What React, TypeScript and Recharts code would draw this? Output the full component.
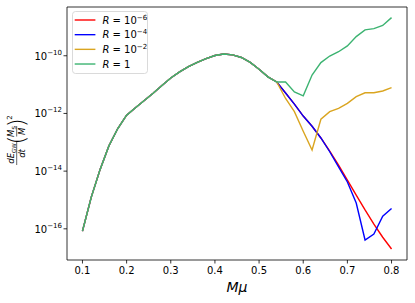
import React from "react";
import { LineChart, Line, XAxis, YAxis, ReferenceArea, Legend } from "recharts";

// x values (M mu)
const MU = [
  0.1, 0.12, 0.14, 0.16, 0.18, 0.2, 0.22, 0.24, 0.26, 0.28, 0.3, 0.32, 0.34, 0.36,
  0.38, 0.4, 0.42, 0.44, 0.46, 0.48, 0.5, 0.52, 0.54, 0.56, 0.58, 0.6, 0.62, 0.64,
  0.66, 0.68, 0.7, 0.72, 0.74, 0.76, 0.78, 0.8,
];

// shared branch (0.10 .. 0.54) common to every R
const SHARED = [
  8.3e-17, 1.26e-15, 1.15e-14, 7.6e-14, 3.0e-13, 8.7e-13, 1.58e-12, 2.8e-12, 5.0e-12,
  9.3e-12, 1.7e-11, 2.75e-11, 4.2e-11, 5.9e-11, 7.9e-11, 1.02e-10, 1.15e-10, 1.07e-10,
  8.7e-11, 5.9e-11, 3.4e-11, 1.86e-11, 1.23e-11,
];

// tails (0.56 .. 0.80)
const TAIL_R6 = [5.1e-12, 2.1e-12, 8.1e-13, 3.6e-13, 1.41e-13, 4.9e-14, 1.62e-14, 4.9e-15, 1.48e-15, 4.5e-16, 1.45e-16, 5.1e-17, 2.0e-17];
const TAIL_R4 = [5.1e-12, 2.1e-12, 8.1e-13, 3.6e-13, 1.41e-13, 4.7e-14, 1.41e-14, 4.2e-15, 7.8e-16, 4.1e-17, 6.6e-17, 2.75e-16, 5.1e-16];
const TAIL_R2 = [3.3e-12, 1.15e-12, 2.4e-13, 5.4e-14, 6.3e-13, 1.15e-12, 1.51e-12, 2.24e-12, 3.8e-12, 5.2e-12, 5.2e-12, 6.0e-12, 7.8e-12];
const TAIL_R0 = [1.23e-11, 5.6e-12, 4.1e-12, 2.14e-11, 5.8e-11, 9.8e-11, 1.38e-10, 2.2e-10, 4.6e-10, 7.9e-10, 8.7e-10, 1.12e-9, 2.1e-9];

const SERIES_KEYS = ["r6", "r4", "r2", "r0"];
const SERIES_COLORS = ["#ff0000", "#0000ff", "#daa520", "#3cb371"];
const LEGEND_EXPONENTS = ["\u22126", "\u22124", "\u22122", ""];

const X_TICKS = [0.1, 0.2, 0.3, 0.4, 0.5, 0.6, 0.7, 0.8];
const Y_TICKS = [1e-16, 1e-14, 1e-12, 1e-10];
const Y_TICK_EXPONENTS = ["\u221216", "\u221214", "\u221212", "\u221210"];

const X_DOMAIN = [0.065, 0.835];
const Y_DOMAIN = [8.3e-18, 4.9e-9];

const tails = [TAIL_R6, TAIL_R4, TAIL_R2, TAIL_R0];
const data = MU.map((mu, i) => {
  const row: any = { mu };
  SERIES_KEYS.forEach((k, s) => {
    row[k] = i < SHARED.length ? SHARED[i] : tails[s][i - SHARED.length];
  });
  return row;
});

const FONT = "DejaVu Sans";

const XTick = (props: any) => {
  const { x, payload } = props;
  return (
    <text x={x} y={274} textAnchor="middle" fontSize={10} fontFamily={FONT} fill="#000">
      {payload.value.toFixed(1)}
    </text>
  );
};

const YTick = (props: any) => {
  const { x, y, payload } = props;
  const idx = Y_TICKS.findIndex((t) => Math.abs(Math.log10(t) - Math.log10(payload.value)) < 0.01);
  return (
    <text x={x} y={y + 4} textAnchor="end" fontSize={10} fontFamily={FONT} fill="#000">
      <tspan>10</tspan>
      <tspan dy={-5} fontSize={7}>{Y_TICK_EXPONENTS[idx]}</tspan>
    </text>
  );
};

const XLabel = () => (
  <text x={237} y={292} textAnchor="middle" fontSize={14} fontStyle="italic" fontFamily={FONT} fill="#000">
    M{"\u03bc"}
  </text>
);

const YLabel = () => (
  <g transform="translate(16.7,140) rotate(-90)" fontFamily={FONT} fill="#000">
    <text x={-13.5} y={-2.5} textAnchor="middle" fontSize={8.5}>
      <tspan fontStyle="italic">dE</tspan>
      <tspan fontSize={5.5} dy={1.8}>GW</tspan>
    </text>
    <line x1={-25} x2={-2} y1={0} y2={0} stroke="#000" strokeWidth={0.6} />
    <text x={-13.5} y={8.3} textAnchor="middle" fontSize={8.5} fontStyle="italic">dt</text>
    <text x={0} y={7.8} textAnchor="middle" fontSize={23} fontWeight={300}>(</text>
    <text x={8.5} y={-2.5} textAnchor="middle" fontSize={8.5}>
      <tspan fontStyle="italic">M</tspan>
      <tspan fontSize={5.5} dy={1.8}>S</tspan>
    </text>
    <line x1={3.5} x2={14} y1={0} y2={0} stroke="#000" strokeWidth={0.6} />
    <text x={8.7} y={8.3} textAnchor="middle" fontSize={8.5} fontStyle="italic">M</text>
    <text x={17.3} y={7.8} textAnchor="middle" fontSize={23} fontWeight={300}>)</text>
    <text x={22.5} y={-4.7} textAnchor="middle" fontSize={7}>2</text>
  </g>
);

const LegendBox = () => (
  <svg width={77} height={64} style={{ display: "block" }}>
    <rect x={0.5} y={0.5} width={75} height={62} rx={3} fill="#fff" fillOpacity={0.8} stroke="#d0d0d0" strokeWidth={0.8} />
    {SERIES_KEYS.map((k, i) => {
      const y = 9 + i * 14.67;
      return (
        <g key={k}>
          <line x1={2.7} x2={23.4} y1={y} y2={y} stroke={SERIES_COLORS[i]} strokeWidth={1.4} />
          <text x={30.4} y={y + 3.8} fontSize={10} fontFamily={FONT} fill="#000">
            <tspan fontStyle="italic">R</tspan>
            <tspan>{" = "}{LEGEND_EXPONENTS[i] ? "10" : "1"}</tspan>
            {LEGEND_EXPONENTS[i] ? (
              <tspan dy={-4} fontSize={7}>{LEGEND_EXPONENTS[i]}</tspan>
            ) : null}
          </text>
        </g>
      );
    })}
  </svg>
);

export default function App() {
  return (
    <div style={{ position: "absolute", left: 0, top: 0, background: "#fff" }}>
      <LineChart width={415} height={303} data={data} margin={{ top: 7, right: 8, left: 0, bottom: 0 }}>
        <XAxis
          dataKey="mu"
          type="number"
          domain={X_DOMAIN}
          ticks={X_TICKS}
          allowDataOverflow
          height={43}
          axisLine={false}
          tickLine={{ stroke: "#000", strokeWidth: 0.8 }}
          tickSize={3.5}
          tickMargin={2}
          tick={<XTick />}
          label={{ content: () => <XLabel /> }}
        />
        <YAxis
          type="number"
          scale="log"
          domain={Y_DOMAIN}
          ticks={Y_TICKS}
          allowDataOverflow
          width={67}
          axisLine={false}
          tickLine={{ stroke: "#000", strokeWidth: 0.8 }}
          tickSize={3.5}
          tickMargin={1.5}
          tick={<YTick />}
          label={{ content: () => <YLabel /> }}
        />
        <ReferenceArea
          x1={X_DOMAIN[0]}
          x2={X_DOMAIN[1]}
          y1={Y_DOMAIN[0]}
          y2={Y_DOMAIN[1]}
          fill="none"
          stroke="#000"
          strokeWidth={0.8}
          ifOverflow="visible"
        />
        {SERIES_KEYS.map((k, i) => (
          <Line
            key={k}
            dataKey={k}
            type="linear"
            stroke={SERIES_COLORS[i]}
            strokeWidth={1.4}
            dot={false}
            activeDot={false}
            isAnimationActive={false}
          />
        ))}
        <Legend
          layout="vertical"
          align="center"
          verticalAlign="middle"
          content={() => <LegendBox />}
          wrapperStyle={{ left: 72, top: 11, width: 77, height: 64 }}
        />
      </LineChart>
    </div>
  );
}
